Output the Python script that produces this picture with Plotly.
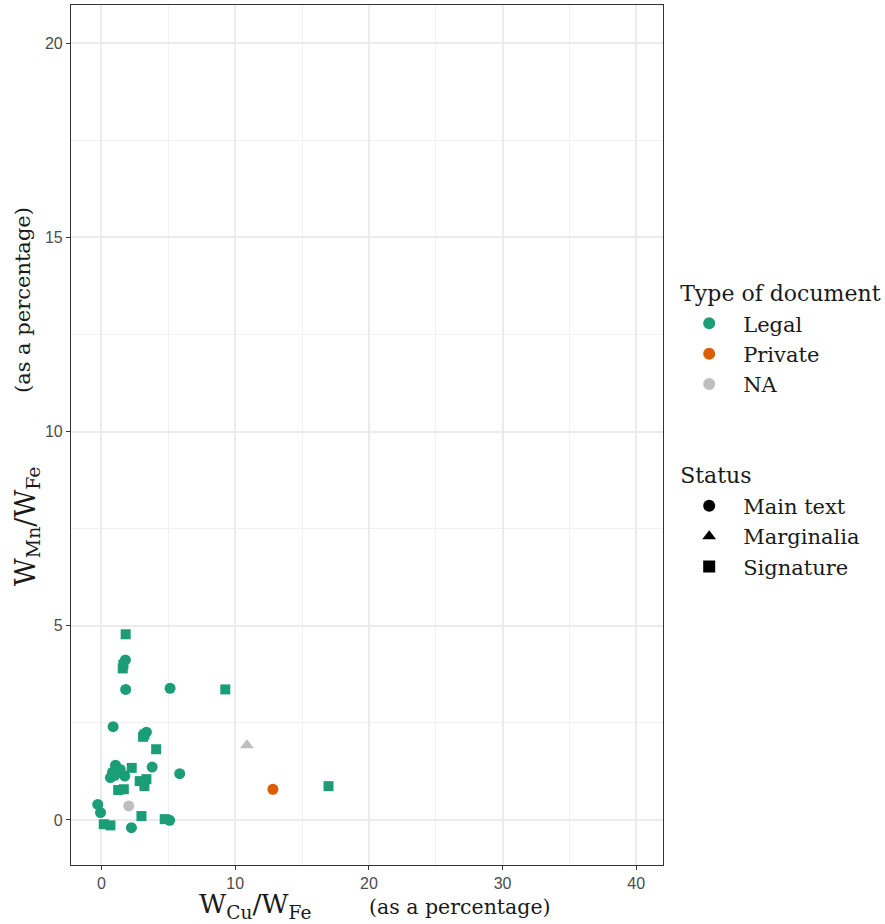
import plotly.graph_objects as go

# ---- data ----
doc_type = ["Legal"] * 36 + ["Private", "NA", "NA"]
status = (
    ["Signature", "Main text", "Signature", "Signature", "Main text", "Main text", "Signature",
     "Main text", "Signature", "Signature", "Main text", "Signature", "Main text", "Signature",
     "Main text", "Main text", "Main text", "Main text", "Main text", "Main text",
     "Signature", "Signature", "Signature", "Signature", "Signature",
     "Main text", "Main text", "Signature", "Signature", "Signature", "Main text",
     "Signature", "Main text", "Signature", "Main text", "Main text"]
    + ["Main text", "Main text", "Marginalia"]
)
cu_fe = [1.81, 1.79, 1.59, 1.64, 1.81, 5.13, 9.26,
         0.87, 3.21, 3.11, 3.36, 4.09, 1.05, 2.26,
         3.79, 5.85, 0.67, 1.17, 1.74, 0.82,
         2.86, 3.36, 3.21, 1.25, 1.67,
         -0.28, -0.07, 2.99, 0.17, 0.67, 2.24,
         4.73, 5.10, 16.98, 1.00, 1.40,
         12.82, 2.04, 10.88]
mn_fe = [4.78, 4.12, 3.90, 4.00, 3.36, 3.39, 3.36,
         2.40, 2.20, 2.14, 2.26, 1.82, 1.41, 1.34,
         1.36, 1.19, 1.09, 1.22, 1.13, 1.23,
         1.00, 1.05, 0.87, 0.77, 0.79,
         0.40, 0.19, 0.10, -0.11, -0.14, -0.20,
         0.02, -0.01, 0.87, 1.15, 1.30,
         0.79, 0.36, 1.92]

type_levels = ["Legal", "Private", "NA"]
status_levels = ["Main text", "Marginalia", "Signature"]
type_colors = {"Legal": "#1b9e77", "Private": "#d95f02", "NA": "#bebebe"}
status_symbols = {"Main text": "circle", "Marginalia": "triangle-up", "Signature": "square"}
status_sizes = {"Main text": 11, "Marginalia": 12, "Signature": 10}

x_ticks = [0, 10, 20, 30, 40]
y_ticks = [0, 5, 10, 15, 20]

fig = go.Figure()

for t in type_levels:
    for s in status_levels:
        xs = [x for x, tt, ss in zip(cu_fe, doc_type, status) if tt == t and ss == s]
        ys = [y for y, tt, ss in zip(mn_fe, doc_type, status) if tt == t and ss == s]
        if not xs:
            continue
        fig.add_trace(go.Scatter(
            x=xs, y=ys, mode="markers", showlegend=False,
            marker=dict(color=type_colors[t], symbol=status_symbols[s], size=status_sizes[s],
                        line=dict(width=0)),
        ))

# legend entries
for t in type_levels:
    fig.add_trace(go.Scatter(
        x=[None], y=[None], mode="markers", name=t,
        legendgroup="type", legendgrouptitle_text="Type of document",
        marker=dict(color=type_colors[t], symbol="circle", size=10),
    ))
for s in status_levels:
    fig.add_trace(go.Scatter(
        x=[None], y=[None], mode="markers", name=s,
        legendgroup="status", legendgrouptitle_text="Status",
        marker=dict(color="black", symbol=status_symbols[s], size=9),
    ))

serif = "DejaVu Serif"
sans = "Liberation Sans"
grid = "#ebebeb"
ink = "#1a1a1a"

fig.update_layout(
    width=885, height=924,
    margin=dict(l=71, r=222, t=5, b=59, autoexpand=False),
    paper_bgcolor="white", plot_bgcolor="white",
    showlegend=True,
    legend=dict(
        x=1.0206, y=0.69, xanchor="left", yanchor="top",
        font=dict(family=serif, size=21, color=ink),
        grouptitlefont=dict(family=serif, size=22, color=ink),
        tracegroupgap=60, itemsizing="constant", itemwidth=58,
        bgcolor="rgba(0,0,0,0)",
    ),
    annotations=[
        # x-axis title
        dict(text="W<sub>Cu</sub>/W<sub>Fe</sub>",
             xref="paper", yref="paper", x=0.4089, y=-0.0471, xanchor="right", yanchor="middle",
             showarrow=False, font=dict(family=serif, size=26.5, color=ink)),
        dict(text="(as a percentage)",
             xref="paper", yref="paper", x=0.5, y=-0.049, xanchor="left", yanchor="middle",
             showarrow=False, font=dict(family=serif, size=20.5, color=ink)),
        # y-axis title
        dict(text="W<sub>Mn</sub>/W<sub>Fe</sub>",
             xref="paper", yref="paper", x=-0.0737, y=0.3935, xanchor="center", yanchor="middle",
             textangle=-90, showarrow=False, font=dict(family=serif, size=27, color=ink)),
        dict(text="(as a percentage)",
             xref="paper", yref="paper", x=-0.08, y=0.6565, xanchor="center", yanchor="middle",
             textangle=-90, showarrow=False, font=dict(family=serif, size=21, color=ink)),
    ],
)

fig.update_xaxes(
    range=[-2.28, 42.0], tickvals=x_ticks, ticktext=[str(v) for v in x_ticks],
    showgrid=True, gridcolor=grid, gridwidth=1.5,
    minor=dict(dtick=5, tick0=0, showgrid=True, gridcolor="#f0f0f0", gridwidth=1, ticklen=0),
    zeroline=False, showline=True, mirror=True, linecolor="#333333", linewidth=1.2,
    ticks="outside", ticklen=4, tickcolor="#333333", tickwidth=1.2,
    tickfont=dict(family=sans, size=16, color="#4d4d4d"),
)
fig.update_yaxes(
    range=[-1.16, 20.98], tickvals=y_ticks, ticktext=[str(v) for v in y_ticks],
    showgrid=True, gridcolor=grid, gridwidth=1.5,
    minor=dict(dtick=2.5, tick0=0, showgrid=True, gridcolor="#f0f0f0", gridwidth=1, ticklen=0),
    zeroline=False, showline=True, mirror=True, linecolor="#333333", linewidth=1.2,
    ticks="outside", ticklen=4, tickcolor="#333333", tickwidth=1.2,
    tickfont=dict(family=sans, size=16, color="#4d4d4d"),
)

fig.write_html("out.html", config={"displayModeBar": False},
               post_script="document.body.style.margin='0px';")
